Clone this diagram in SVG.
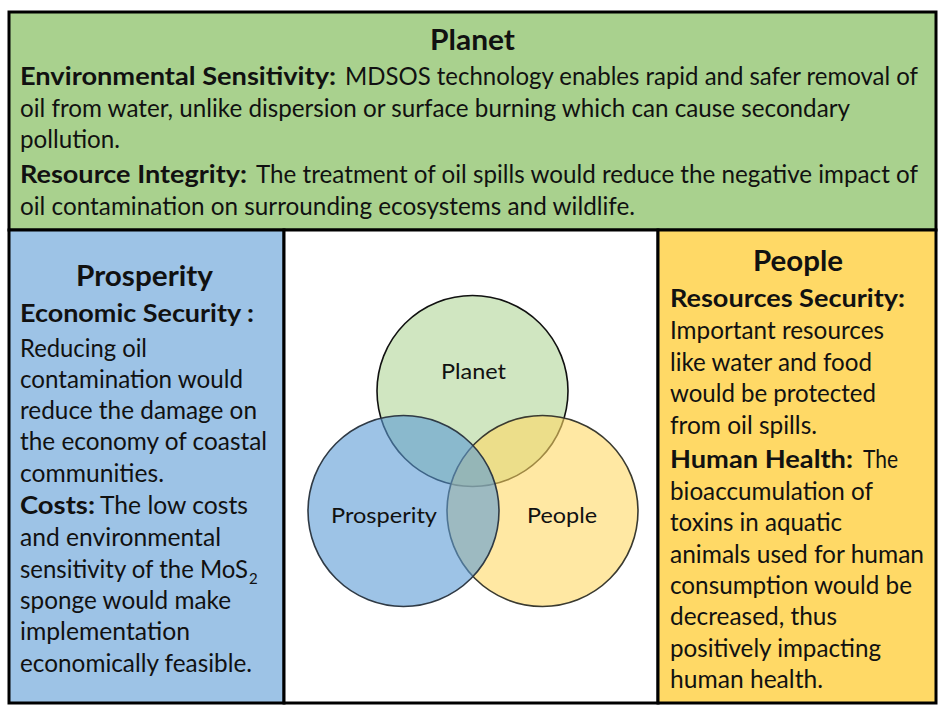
<svg xmlns="http://www.w3.org/2000/svg" width="939" height="705" viewBox="0 0 939 705">
<style>
.panel{stroke:#000;stroke-width:3}
text{font-family:Lato,"Open Sans","Liberation Sans",sans-serif;fill:#111}
.b{font-weight:700;font-size:25px}
.r{font-size:25px}
.t{font-weight:700;font-size:28px;text-anchor:middle}
.v{font-size:22px}
.circ{stroke-width:1.6}
</style>
<rect width="939" height="705" fill="#fff"/>
<g id="planet-panel">
<rect class="panel" x="9" y="12" width="927" height="218" fill="#A9D18E"/>
<text class="t" x="472.5" y="50" textLength="85" lengthAdjust="spacingAndGlyphs">Planet</text>
<text class="b" x="20" y="85" textLength="316" lengthAdjust="spacingAndGlyphs">Environmental Sensitivity:</text>
<text class="r" x="345" y="85" textLength="573" lengthAdjust="spacingAndGlyphs">MDSOS technology enables rapid and safer removal of</text>
<text class="r" x="20" y="117" textLength="830" lengthAdjust="spacingAndGlyphs">oil from water, unlike dispersion or surface burning which can cause secondary</text>
<text class="r" x="20" y="148" textLength="100" lengthAdjust="spacingAndGlyphs">pollution.</text>
<text class="b" x="20" y="183" textLength="227" lengthAdjust="spacingAndGlyphs">Resource Integrity:</text>
<text class="r" x="256" y="183" textLength="662" lengthAdjust="spacingAndGlyphs">The treatment of oil spills would reduce the negative impact of</text>
<text class="r" x="20" y="215" textLength="615" lengthAdjust="spacingAndGlyphs">oil contamination on surrounding ecosystems and wildlife.</text>
</g>
<g id="prosperity-panel">
<rect class="panel" x="9" y="230" width="275" height="473" fill="#9DC3E6"/>
<text class="t" x="144.5" y="286" textLength="137" lengthAdjust="spacingAndGlyphs">Prosperity</text>
<text class="b" x="20" y="322" textLength="234" lengthAdjust="spacingAndGlyphs">Economic Security :</text>
<text class="r" x="20" y="357" textLength="127" lengthAdjust="spacingAndGlyphs">Reducing oil</text>
<text class="r" x="20" y="388" textLength="223" lengthAdjust="spacingAndGlyphs">contamination would</text>
<text class="r" x="20" y="419" textLength="237" lengthAdjust="spacingAndGlyphs">reduce the damage on</text>
<text class="r" x="20" y="450" textLength="247" lengthAdjust="spacingAndGlyphs">the economy of coastal</text>
<text class="r" x="20" y="482" textLength="144" lengthAdjust="spacingAndGlyphs">communities.</text>
<text class="b" x="20" y="514" textLength="75" lengthAdjust="spacingAndGlyphs">Costs:</text>
<text class="r" x="100" y="514" textLength="148" lengthAdjust="spacingAndGlyphs">The low costs</text>
<text class="r" x="20" y="546" textLength="201" lengthAdjust="spacingAndGlyphs">and environmental</text>
<text class="r" x="20" y="578" textLength="228" lengthAdjust="spacingAndGlyphs">sensitivity of the MoS</text>
<text x="249" y="584" font-size="15">2</text>
<text class="r" x="20" y="609" textLength="211" lengthAdjust="spacingAndGlyphs">sponge would make</text>
<text class="r" x="20" y="640" textLength="170" lengthAdjust="spacingAndGlyphs">implementation</text>
<text class="r" x="20" y="672" textLength="232" lengthAdjust="spacingAndGlyphs">economically feasible.</text>
</g>
<g id="venn-panel">
<rect class="panel" x="284" y="230" width="374" height="473" fill="#fff"/>
</g>
<g id="people-panel">
<rect class="panel" x="658" y="230" width="278" height="473" fill="#FFD966"/>
<text class="t" x="798" y="271" textLength="90" lengthAdjust="spacingAndGlyphs">People</text>
<text class="b" x="670" y="307" textLength="235" lengthAdjust="spacingAndGlyphs">Resources Security:</text>
<text class="r" x="670" y="339" textLength="214" lengthAdjust="spacingAndGlyphs">Important resources</text>
<text class="r" x="670" y="371" textLength="202" lengthAdjust="spacingAndGlyphs">like water and food</text>
<text class="r" x="670" y="402" textLength="206" lengthAdjust="spacingAndGlyphs">would be protected</text>
<text class="r" x="670" y="434" textLength="147" lengthAdjust="spacingAndGlyphs">from oil spills.</text>
<text class="b" x="670" y="468" textLength="183" lengthAdjust="spacingAndGlyphs">Human Health:</text>
<text class="r" x="863" y="468" textLength="35" lengthAdjust="spacingAndGlyphs">The</text>
<text class="r" x="670" y="500" textLength="203" lengthAdjust="spacingAndGlyphs">bioaccumulation of</text>
<text class="r" x="670" y="531" textLength="172" lengthAdjust="spacingAndGlyphs">toxins in aquatic</text>
<text class="r" x="670" y="563" textLength="254" lengthAdjust="spacingAndGlyphs">animals used for human</text>
<text class="r" x="670" y="594" textLength="242" lengthAdjust="spacingAndGlyphs">consumption would be</text>
<text class="r" x="670" y="625" textLength="167" lengthAdjust="spacingAndGlyphs">decreased, thus</text>
<text class="r" x="670" y="657" textLength="211" lengthAdjust="spacingAndGlyphs">positively impacting</text>
<text class="r" x="670" y="688" textLength="153" lengthAdjust="spacingAndGlyphs">human health.</text>
</g>
<g id="venn-planet">
<circle class="circ" cx="472.5" cy="391" r="95.5" fill="#A9D18E" fill-opacity="0.55" stroke="#111" stroke-width="2"/>
</g>
<g id="venn-people">
<circle class="circ" cx="542.5" cy="511" r="95.5" fill="#FFD966" fill-opacity="0.6" stroke="#3a3a30"/>
</g>
<g id="venn-prosperity">
<circle class="circ" cx="403.5" cy="511" r="95.5" fill="#5B9BD5" fill-opacity="0.6" stroke="#2f3a45"/>
</g>
<g id="venn-labels">
<text class="v" x="473.5" y="379" text-anchor="middle" textLength="65" lengthAdjust="spacingAndGlyphs">Planet</text>
<text class="v" x="384" y="523" text-anchor="middle" textLength="106" lengthAdjust="spacingAndGlyphs">Prosperity</text>
<text class="v" x="562" y="523" text-anchor="middle" textLength="70" lengthAdjust="spacingAndGlyphs">People</text>
</g>
<g id="connectors"/>
</svg>
